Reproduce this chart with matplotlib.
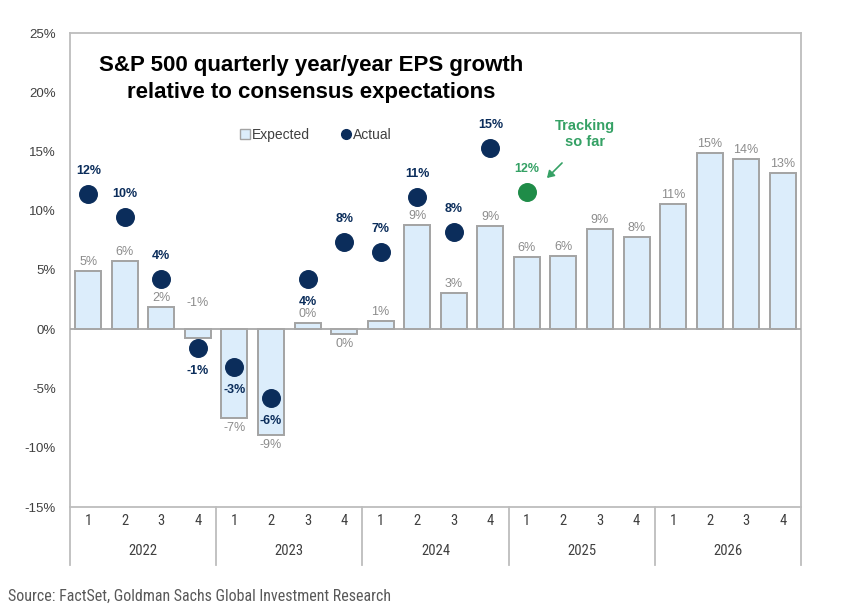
import matplotlib
matplotlib.use("Agg")
import matplotlib.pyplot as plt
import matplotlib.transforms as mtransforms
from matplotlib.patches import Patch, FancyArrowPatch
from matplotlib.lines import Line2D
from matplotlib import font_manager

# Veriler
years = ["2022", "2023", "2024", "2025", "2026"]
quarters = ["1", "2", "3", "4"]
expected = [4.9, 5.8, 1.9, -0.7, -7.5, -8.9, 0.5, -0.4, 0.7, 8.8, 3.1, 8.7,
            6.1, 6.2, 8.5, 7.8, 10.6, 14.9, 14.4, 13.2]
expected_labels = ["5%", "6%", "2%", "-1%", "-7%", "-9%", "0%", "0%", "1%", "9%",
                   "3%", "9%", "6%", "6%", "9%", "8%", "11%", "15%", "14%", "13%"]
actual = [11.4, 9.5, 4.2, -1.6, -3.2, -5.8, 4.2, 7.4, 6.5, 11.2, 8.2, 15.3]
actual_labels = ["12%", "10%", "4%", "-1%", "-3%", "-6%", "4%", "8%", "7%",
                 "11%", "8%", "15%"]
tracking = 11.6
tracking_label = "12%"
tracking_idx = 12
yticks = list(range(-15, 30, 5))

# Renkler
BAR_FILL = "#dcedfb"
BAR_EDGE = "#a3a3a3"
NAVY = "#0b2d5b"
GREEN = "#1f8c48"
GREEN_TXT = "#35a165"
GRID = "#bdbdbd"
TXT = "#404040"

installed = {f.name for f in font_manager.fontManager.ttflist}
ARIAL = ["Liberation Sans", "DejaVu Sans"]
NARROW = ["Liberation Sans Narrow", "Liberation Sans", "DejaVu Sans"]
if "Liberation Sans Narrow" not in installed:
    NARROW = ["Roboto Condensed", "Liberation Sans", "DejaVu Sans"]
plt.rcParams["font.family"] = ARIAL

fig = plt.figure(figsize=(8.48, 6.12), dpi=100)
W, H = 848, 612
ax = fig.add_axes([70 / W, 1 - 507 / H, (801 - 70) / W, (507 - 33) / H])

x = list(range(len(expected)))
ax.bar(x, expected, width=0.71, color=BAR_FILL, edgecolor=BAR_EDGE,
       linewidth=1.4, zorder=2)
ax.axhline(0, color="#a8a8a8", lw=1.3, zorder=3)

ax.scatter(range(len(actual)), actual, s=160, color=NAVY, zorder=4)
ax.scatter([tracking_idx], [tracking], s=160, color=GREEN, zorder=4)

PX = 72 / 100  # piksel -> punkt

# Beklenen etiketleri
for i, (v, lab) in enumerate(zip(expected, expected_labels)):
    if i == 3:
        y0, off = 0, 26
    elif v >= 0:
        y0, off = v, 9
    else:
        y0, off = v, -10
    ax.annotate(lab, (i, y0), xytext=(0, off * PX), textcoords="offset points",
                ha="center", va="center", fontsize=9, color="#8c8c8c", zorder=5)

# Gerceklesen etiketleri
for i, (v, lab) in enumerate(zip(actual, actual_labels)):
    off = -23 if (v < 0 or i == 6) else 23
    ax.annotate(lab, (i, v), xytext=(0, off * PX), textcoords="offset points",
                ha="center", va="center", fontsize=9, fontweight="bold",
                color=NAVY, zorder=5)

ax.annotate(tracking_label, (tracking_idx, tracking), xytext=(0, 23 * PX),
            textcoords="offset points", ha="center", va="center", fontsize=9,
            fontweight="bold", color=GREEN_TXT, zorder=5)
fig.text(585 / W, 1 - 134 / H, "Tracking\nso far", ha="center", va="center",
         fontsize=10.5, fontweight="bold", color=GREEN_TXT, linespacing=1.2)
fig.add_artist(FancyArrowPatch(
    (564 / W, 1 - 161 / H), (545 / W, 1 - 180 / H), transform=fig.transFigure,
    arrowstyle="-|>,head_length=4,head_width=2.5", color=GREEN_TXT, lw=1.2))

ax.set_xlim(-0.5, len(expected) - 0.5)
ax.set_ylim(-15, 25)
ax.set_yticks(yticks)
ax.set_yticklabels([f"{v}%" for v in yticks], fontsize=9.5, color=TXT)
ax.tick_params(axis="y", length=0, pad=10)
ax.set_xticks([])
for s in ax.spines.values():
    s.set_color(GRID)
    s.set_linewidth(1.3)

# Kategori ekseni (ceyrek / yil)
trans = mtransforms.blended_transform_factory(ax.transData, ax.transAxes)
hpx = 507 - 33
for k in range(len(years) + 1):
    b = -0.5 + 4 * k
    ax.plot([b, b], [0, -(565 - 507) / hpx], transform=trans, color=GRID,
            lw=1.3, clip_on=False)
for k, yr in enumerate(years):
    for j, q in enumerate(quarters):
        ax.text(4 * k + j, -(521 - 507) / hpx, q, transform=trans, ha="center",
                va="center", fontsize=10.5, color=TXT, family=NARROW)
    ax.text(4 * k + 1.5, -(551 - 507) / hpx, yr, transform=trans, ha="center",
            va="center", fontsize=10.5, color=TXT, family=NARROW)

# Baslik
fig.text(311 / W, 1 - 79 / H,
         "S&P 500 quarterly year/year EPS growth\nrelative to consensus expectations",
         ha="center", va="center", fontsize=16, fontweight="bold",
         color="black", linespacing=1.38)

# Lejant
handles = [Patch(facecolor=BAR_FILL, edgecolor=BAR_EDGE, linewidth=1),
           Line2D([], [], marker="o", ls="", color=NAVY, markersize=7)]
fig.legend(handles, ["Expected", "Actual"], loc="center",
           bbox_to_anchor=(316 / W, 1 - 135 / H), ncol=2, frameon=False,
           fontsize=10, handlelength=0.7, handleheight=0.7, handletextpad=0.2,
           columnspacing=2.2, labelcolor=TXT)

fig.text(8 / W, 1 - 596 / H,
         "Source: FactSet, Goldman Sachs Global Investment Research",
         ha="left", va="center", fontsize=11.5, color="#595959", family=NARROW)

fig.savefig("out.png", dpi=100)
